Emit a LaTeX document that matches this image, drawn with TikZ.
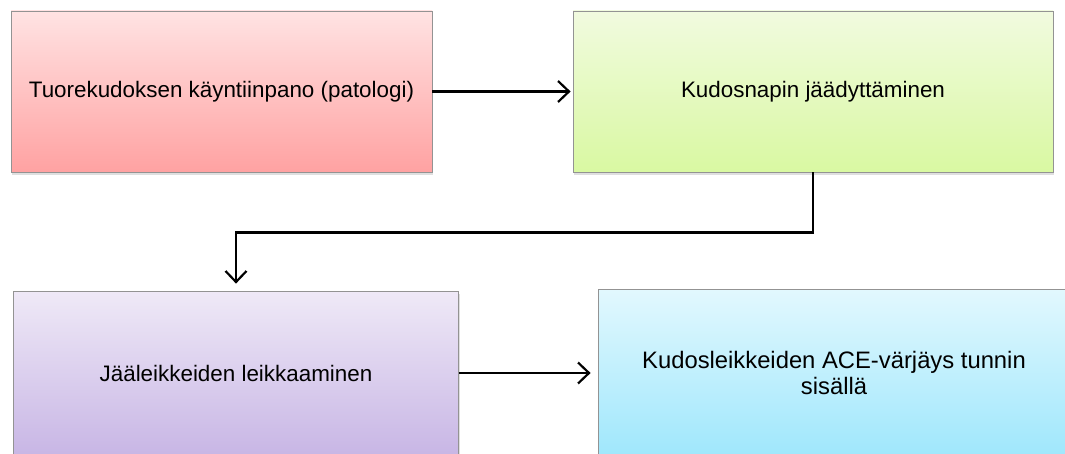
\documentclass[tikz,border=0pt]{standalone}
\usepackage{fontspec}
\setmainfont{Liberation Sans}
\usetikzlibrary{arrows.meta,shadows}
\definecolor{redtop}{HTML}{FFE3E3}
\definecolor{redbot}{HTML}{FFA2A2}
\definecolor{greentop}{HTML}{F1FADF}
\definecolor{greenbot}{HTML}{D9F9A2}
\definecolor{violettop}{HTML}{EFE9F7}
\definecolor{violetbot}{HTML}{C8B6E5}
\definecolor{cyantop}{HTML}{E2F8FE}
\definecolor{cyanbot}{HTML}{9FE7FC}
\tikzset{
    stepbox/.style={draw=gray!85, line width=0.8pt, align=center,
        font=\fontsize{22.4}{25.5}\selectfont,
        drop shadow={shadow xshift=1pt, shadow yshift=-3pt, opacity=0.25}},
    flow/.style={line width=2.4pt, -{Straight Barb[length=11pt,width=21pt,line width=2.2pt]}}
}
\begin{document}
\begin{tikzpicture}[x=1pt, y=-1pt]
    % kehys
    \useasboundingbox (0, 0) rectangle (1065, 454);
    \clip (0, 0) rectangle (1065, 454);

    % laatikot
    \node[stepbox, top color=redtop, bottom color=redbot,
        minimum width=421pt, minimum height=161pt] (kayntiinpano) at (221.5, 91.5)
        {Tuorekudoksen käyntiinpano (patologi)};
    \node[stepbox, top color=greentop, bottom color=greenbot,
        minimum width=480pt, minimum height=161pt] (jaadytys) at (813, 91.5)
        {Kudosnapin jäädyttäminen};
    \node[stepbox, top color=violettop, bottom color=violetbot,
        minimum width=445pt, minimum height=164pt] (leikkaus) at (236, 373)
        {Jääleikkeiden leikkaaminen};
    \node[stepbox, top color=cyantop, bottom color=cyanbot,
        font=\fontsize{23.8}{26}\selectfont,
        minimum width=472pt, minimum height=168pt] (varjays) at (834, 373)
        {Kudosleikkeiden ACE-värjäys tunnin\\sisällä};

    % nuolet
    \draw[flow, shorten >=2pt] (kayntiinpano.east) -- (jaadytys.west);
    \draw[flow, shorten >=7pt] (jaadytys.south) -- ++(0, 60) -| (leikkaus.north);
    \draw[flow, shorten >=7pt] (leikkaus.east) -- (varjays.west);
\end{tikzpicture}
\end{document}
